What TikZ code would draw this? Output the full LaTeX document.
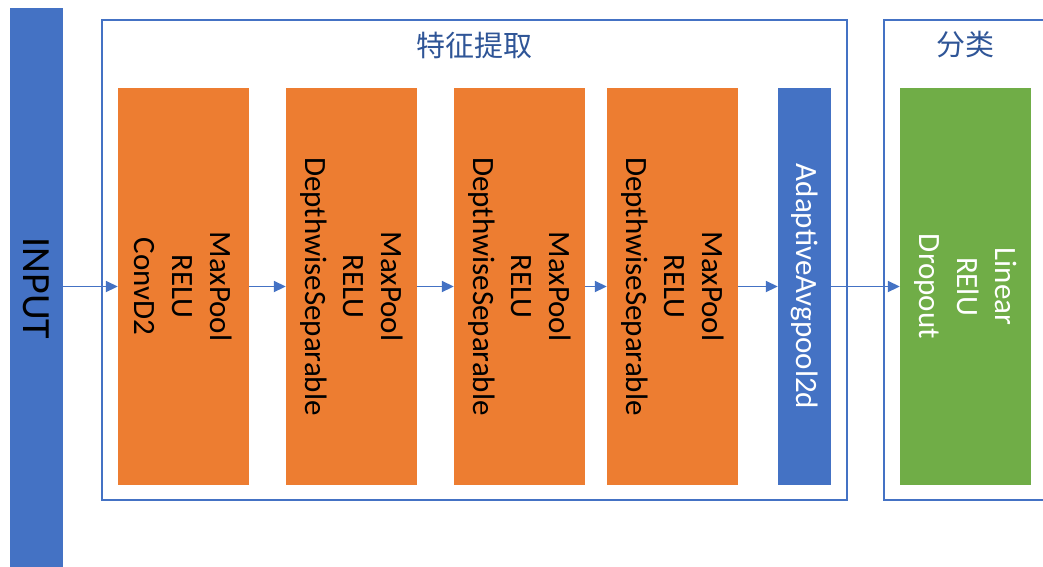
\documentclass[tikz,border=0pt]{standalone}
\usepackage{fontspec}
\setmainfont{Carlito}
\newfontfamily\cjk{Noto Sans CJK SC}
\usetikzlibrary{arrows.meta, positioning}

\definecolor{accblue}{HTML}{4472C4}
\definecolor{accorange}{HTML}{ED7D31}
\definecolor{accgreen}{HTML}{70AD47}
\definecolor{titleblue}{HTML}{2F5597}

\begin{document}
\begin{tikzpicture}[x=1pt,y=-1pt]

\tikzset{layer/.style = {shape=rectangle, rotate=-90, inner sep=0pt,
  minimum width=397pt, minimum height=131pt, align=center,
  font=\fontsize{31}{38}\selectfont}}
\tikzset{frame/.style = {shape=rectangle, draw=accblue, line width=1.5pt, inner sep=0pt}}
\tikzset{title/.style = {text=titleblue, font=\cjk\fontsize{29}{34}\selectfont}}
\tikzset{flow/.style = {draw=accblue, line width=1.8pt, -{Triangle[length=12pt,width=11pt]}}}

\useasboundingbox (0,0) rectangle (1043,566);
\clip (0,0) rectangle (1043,566);
\fill[white] (0,0) rectangle (1043,566);

% frames
\node[frame, minimum width=745pt, minimum height=480pt] (feat) at (474.5,260) {};
\node[frame, minimum width=163pt, minimum height=480pt] (cls) at (965.5,260) {};
\node[title] (feattitle) at (474.5,45) {特征提取};
\node[title] (clstitle) at (965.5,45) {分类};

% input
\node[layer, fill=accblue, minimum width=561pt, minimum height=53pt,
  font=\fontsize{40}{48}\selectfont] (input) at (36.5,288.5) {INPUT};

% layers
\node[layer, fill=accorange] (conv) at (183.5,286.5) {MaxPool\\RELU\\ConvD2};
\node[layer, fill=accorange] (dws1) at (351.5,286.5) {MaxPool\\RELU\\DepthwiseSeparable};
\node[layer, fill=accorange] (dws2) at (519.5,286.5) {MaxPool\\RELU\\DepthwiseSeparable};
\node[layer, fill=accorange] (dws3) at (672.5,286.5) {MaxPool\\RELU\\DepthwiseSeparable};
\node[layer, fill=accblue, text=white, minimum height=53pt] (pool) at (804.5,286.5) {AdaptiveAvgpool2d};
\node[layer, fill=accgreen, text=white] (fc) at (965.5,286.5) {Linear\\RElU\\Dropout};

%edges
\path[flow] (input.north |- conv.south) -- (conv.south);
\path[flow] (conv.north) -- (dws1.south);
\path[flow] (dws1.north) -- (dws2.south);
\path[flow] (dws2.north) -- (dws3.south);
\path[flow] (dws3.north) -- (pool.south);
\path[flow] (pool.north) -- (fc.south);

\end{tikzpicture}
\end{document}
